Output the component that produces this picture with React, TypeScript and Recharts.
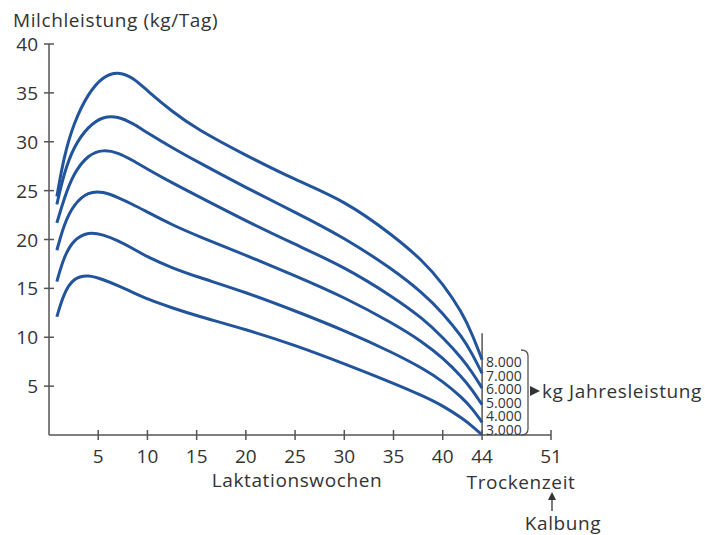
import { LineChart, Line, XAxis, YAxis, ReferenceLine } from 'recharts'

// Laktationswochen (x) and Milchleistung kg/Tag per Jahresleistung curve
const weeks = [0.8, 1.5, 2.5, 4, 5.5, 7, 8.5, 10, 12.5, 15, 20, 25, 30, 35, 38, 40, 42, 43, 44]
const yield8000 = [24.4, 28.4, 31.9, 35.0, 36.7, 37.2, 36.6, 35.2, 33.1, 31.3, 28.6, 26.1, 24.0, 20.4, 17.8, 15.5, 12.5, 10.3, 7.7]
const yield7000 = [23.6, 26.7, 29.5, 31.6, 32.6, 32.6, 31.9, 30.9, 29.4, 28.0, 25.3, 22.8, 20.2, 16.9, 14.5, 12.5, 10.0, 8.3, 6.3]
const yield6000 = [21.7, 24.1, 26.8, 28.7, 29.2, 28.9, 28.1, 27.2, 25.8, 24.5, 21.9, 19.5, 17.2, 14.1, 11.9, 10.0, 7.8, 6.4, 4.8]
const yield5000 = [18.9, 21.5, 23.6, 24.9, 24.9, 24.3, 23.6, 22.8, 21.5, 20.4, 18.4, 16.3, 14.1, 11.4, 9.5, 7.9, 5.9, 4.6, 3.1]
const yield4000 = [15.7, 18.2, 20.0, 20.8, 20.5, 19.9, 19.1, 18.2, 17.1, 16.2, 14.6, 12.7, 10.7, 8.4, 6.8, 5.5, 3.8, 2.7, 1.3]
const yield3000 = [12.1, 14.5, 16.1, 16.4, 15.9, 15.3, 14.6, 13.9, 13.0, 12.2, 10.8, 9.2, 7.3, 5.3, 4.0, 3.0, 1.7, 0.9, 0]

const yTicks = [5, 10, 15, 20, 25, 30, 35, 40]
const xTicks = [5, 10, 15, 20, 25, 30, 35, 40, 44, 51]
const yearlyLabels = ['8.000', '7.000', '6.000', '5.000', '4.000', '3.000']
const dryStart = 44
const dividerTop = 10.4

const chartData = weeks.map((w, i) => ({
  week: w,
  y8000: yield8000[i],
  y7000: yield7000[i],
  y6000: yield6000[i],
  y5000: yield5000[i],
  y4000: yield4000[i],
  y3000: yield3000[i]
}))
const seriesKeys = ['y8000', 'y7000', 'y6000', 'y5000', 'y4000', 'y3000']

const BLUE = '#22549c'
const AXIS = '#555555'
const TEXT = '#333333'
const FONT = '"Open Sans", Lato, sans-serif'

function YTick(props: any) {
  const { x, y, payload } = props
  return (
    <g>
      <line x1={x - 5} x2={x + 5} y1={y} y2={y} stroke={AXIS} strokeWidth={1.5} />
      <text x={x - 11} y={y} dy={7} textAnchor="end" fontSize={19} fill={TEXT} fontFamily={FONT}>
        {payload.value}
      </text>
    </g>
  )
}

function XTick(props: any) {
  const { x, y, payload } = props
  return (
    <g>
      <line x1={x} x2={x} y1={y - 5} y2={y + 5} stroke={AXIS} strokeWidth={1.5} />
      <text x={x} y={y + 28} textAnchor="middle" fontSize={19} fill={TEXT} fontFamily={FONT}>
        {payload.value}
      </text>
    </g>
  )
}

export default function App() {
  return (
    <div style={{ position: 'relative', width: 705, height: 535, fontFamily: FONT }}>
      <style>{'body { margin: 0; }'}</style>
      <LineChart width={705} height={535} data={chartData} margin={{ top: 44, right: 154, bottom: 70, left: 0 }}>
        <XAxis
          dataKey="week"
          type="number"
          domain={[0, 51]}
          ticks={xTicks}
          interval={0}
          height={30}
          tickSize={0}
          tickMargin={0}
          tickLine={false}
          axisLine={{ stroke: AXIS, strokeWidth: 1.5 }}
          tick={<XTick />}
        />
        <YAxis
          type="number"
          domain={[0, 40]}
          ticks={yTicks}
          interval={0}
          width={49}
          tickSize={0}
          tickMargin={0}
          tickLine={false}
          axisLine={{ stroke: AXIS, strokeWidth: 1.5 }}
          tick={<YTick />}
        />
        <ReferenceLine
          segment={[{ x: dryStart, y: 0 }, { x: dryStart, y: dividerTop }]}
          stroke={AXIS}
          strokeWidth={1.5}
        />
        {seriesKeys.map((k) => (
          <Line
            key={k}
            type="basis"
            dataKey={k}
            stroke={BLUE}
            strokeWidth={3}
            dot={false}
            isAnimationActive={false}
          />
        ))}
      </LineChart>
      <svg
        width={705}
        height={535}
        style={{ position: 'absolute', left: 0, top: 0, pointerEvents: 'none' }}
      >
        <g fontFamily={FONT} fill={TEXT} letterSpacing={0.6}>
          <text x={13} y={27} fontSize={19}>Milchleistung (kg/Tag)</text>
          <text x={297} y={487} fontSize={19} textAnchor="middle">Laktationswochen</text>
          <text x={521} y={489} fontSize={19} textAnchor="middle">Trockenzeit</text>
          <text x={563} y={530} fontSize={19} textAnchor="middle">Kalbung</text>
          <text x={542} y={398} fontSize={19}>kg Jahresleistung</text>
        </g>
        <g fontFamily={FONT} fill={TEXT}>
          {yearlyLabels.map((l, i) => (
            <text key={l} x={486} y={367 + i * 13.6} fontSize={14}>{l}</text>
          ))}
        </g>
        <path d="M 521 350 Q 528 350 528 356 L 528 429 Q 528 435 521 435" fill="none" stroke={AXIS} strokeWidth={1.3} />
        <polygon points="530,386 540,391 530,396" fill={TEXT} />
        <line x1={552} x2={552} y1={498} y2={511} stroke={TEXT} strokeWidth={1.3} />
        <polygon points="552,492 548,500 556,500" fill={TEXT} />
      </svg>
    </div>
  )
}
